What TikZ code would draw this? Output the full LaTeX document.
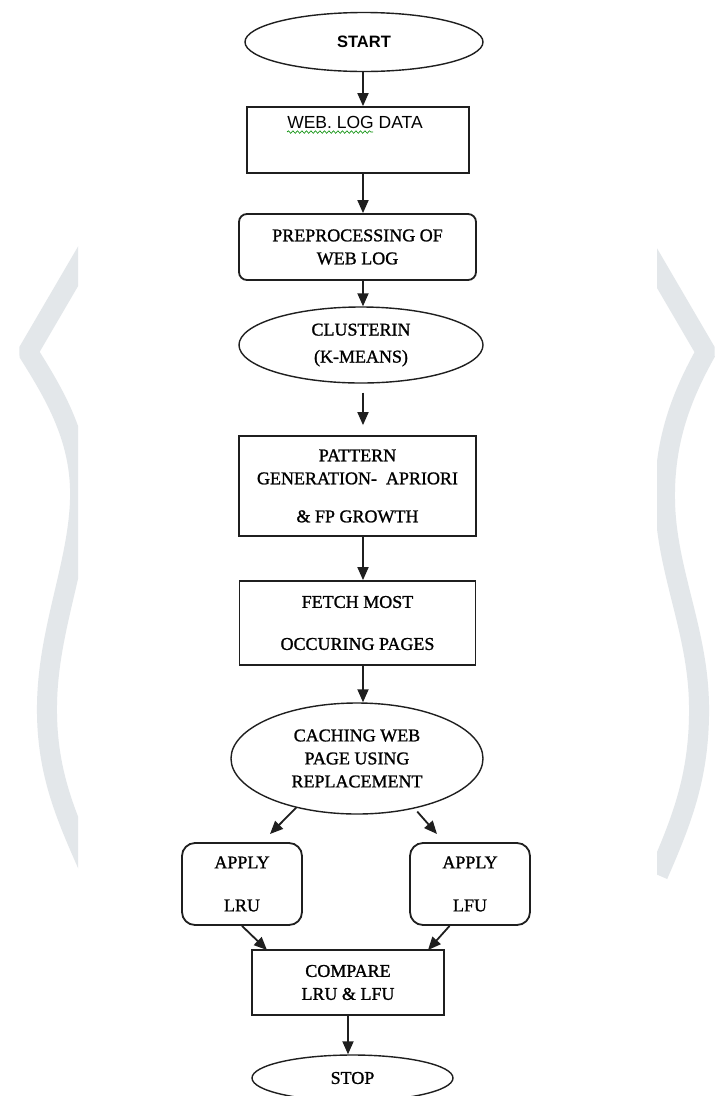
\documentclass[tikz,border=0pt]{standalone}
\usepackage{fontspec}
\setmainfont{Liberation Serif}[BoldFont=Liberation Serif, BoldFeatures={FakeBold=1.2}]
\newfontfamily\arialfont{Liberation Sans}
\usetikzlibrary{shapes.geometric,arrows.meta,decorations.pathmorphing}

\definecolor{wmark}{HTML}{E3E7EA}
\tikzset{
  flow/.style={draw=black!88, line width=1.8pt, inner sep=0pt, align=center,
    font=\bfseries\fontsize{18}{23}\selectfont},
  boxnode/.style={flow, rectangle},
  roundbox/.style={flow, rectangle, rounded corners=8pt},
  ovalnode/.style={flow, ellipse, line width=1.4pt},
  arr/.style={line width=1.8pt, draw=black!88, -{Triangle[length=13pt,width=11pt]}},
  band/.style={line width=20pt, draw=wmark, line join=bevel},
  squig/.style={draw=green!55!black, line width=0.6pt, decorate,
    decoration={snake, amplitude=1.3pt, segment length=4.5pt}},
}

\begin{document}
\begin{tikzpicture}[x=1pt,y=-1pt]
	% fons i mida
	\fill[white] (0,0) rectangle (717,1096);
	\useasboundingbox (0,0) rectangle (717,1096);

	% marca d'aigua
	\begin{scope}
		\clip (0,200) rectangle (78,900);
		\draw[band] (108,215) -- (28,352) .. controls (55,395) and (82,440) .. (80,500)
			.. controls (78,565) and (48,630) .. (47,705) .. controls (46,775) and (68,820) .. (92,875);
	\end{scope}
	\begin{scope}
		\clip (657,200) rectangle (717,900);
		\draw[band] (626,215) -- (706,352) .. controls (682,395) and (664,440) .. (665,500)
			.. controls (666,570) and (698,630) .. (699,705) .. controls (700,775) and (682,820) .. (658,875);
	\end{scope}

	% nodes del diagrama
	\node[ovalnode, minimum width=238pt, minimum height=59pt,
		font=\arialfont\bfseries\fontsize{16.5}{20}\selectfont] (start) at (364,42) {START};
	\node[boxnode, minimum width=222pt, minimum height=66pt] (web) at (358,140) {};
	\node[inner sep=0pt, font=\arialfont\fontsize{17.5}{21}\selectfont] (webtxt) at (355,122) {WEB.~LOG DATA};
	\node[roundbox, minimum width=237pt, minimum height=66pt] (prep) at (357.5,247) {PREPROCESSING OF\\WEB LOG};
	\node[ovalnode, minimum width=244pt, minimum height=76pt] (clus) at (361,345) {CLUSTERIN\\[4pt](K-MEANS)};
	\node[boxnode, minimum width=237pt, minimum height=100pt] (pat) at (357.5,486)
		{PATTERN\\GENERATION-\ \ APRIORI\\[15pt]\& FP GROWTH};
	\node[boxnode, minimum width=236pt, minimum height=84pt] (fetch) at (357.5,623) {FETCH MOST\\[19pt]OCCURING PAGES};
	\node[ovalnode, minimum width=252pt, minimum height=111pt] (cache) at (357,758.5) {CACHING WEB\\PAGE USING\\REPLACEMENT};
	\node[roundbox, rounded corners=13pt, minimum width=120pt, minimum height=82pt] (lru) at (242,884) {APPLY\\[20pt]LRU};
	\node[roundbox, rounded corners=13pt, minimum width=120pt, minimum height=82pt] (lfu) at (470,884) {APPLY\\[20pt]LFU};
	\node[boxnode, minimum width=192pt, minimum height=65pt] (comp) at (348,982.5) {COMPARE\\LRU \& LFU};
	\node[ovalnode, minimum width=201pt, minimum height=46pt] (stop) at (352.5,1078) {STOP};

	% subratllat del corrector
	\draw[squig] ([yshift=-4pt]webtxt.base west) -- ([yshift=-4pt,xshift=86pt]webtxt.base west);

	% fletxes
	\coordinate (axis) at (363,0);
	\coordinate (lrutip) at (270,834);
	\coordinate (lfutip) at (437,834);
	\coordinate (cmpl) at (267,950);
	\coordinate (cmpr) at (428,950);

	\draw[arr] (start.south -| axis) -- (web.north -| axis);
	\draw[arr] (web.south -| axis) -- (prep.north -| axis);
	\draw[arr] (prep.south -| axis) -- (clus.north -| axis);
	\draw[arr, shorten <=9pt, shorten >=10pt] (clus.south -| axis) -- (pat.north -| axis);
	\draw[arr] (pat.south -| axis) -- (fetch.north -| axis);
	\draw[arr] (fetch.south -| axis) -- (cache.north -| axis);
	\draw[arr] (cache.-141) -- (lrutip);
	\draw[arr, shorten <=4pt] (cache.-41) -- (lfutip);
	\draw[arr] (lru.south) -- (cmpl);
	\draw[arr] (lfu.-116) -- (cmpr);
	\draw[arr] (comp.south) -- (comp.south |- stop.north);
\end{tikzpicture}
\end{document}
